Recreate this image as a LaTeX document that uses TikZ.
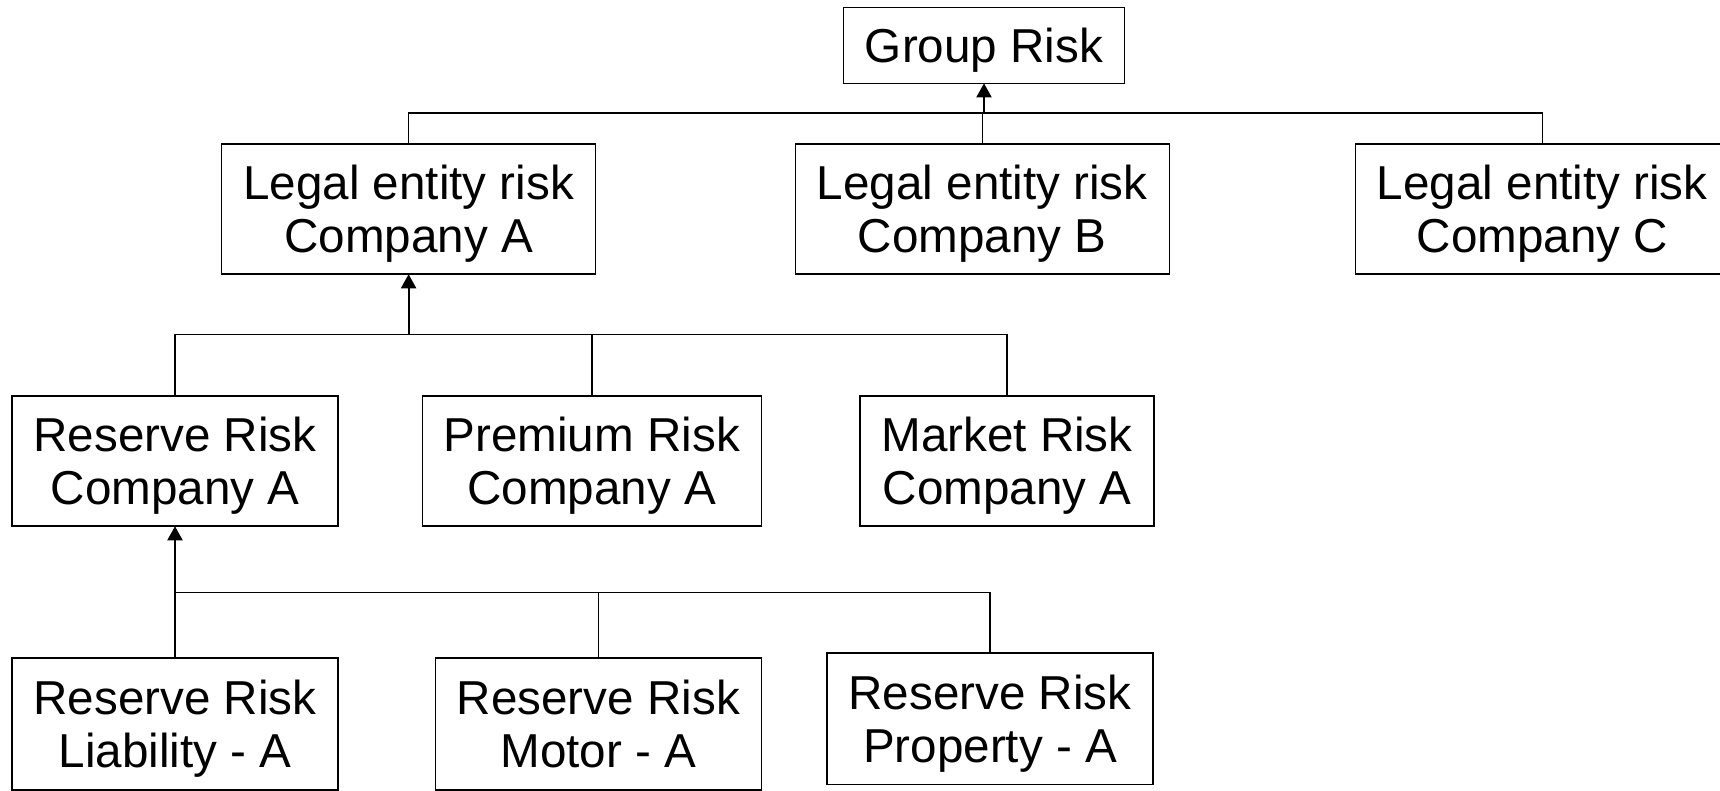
\documentclass[tikz,border=0pt]{standalone}
\usepackage{fontspec}
\setmainfont{Liberation Sans}
\usetikzlibrary{arrows.meta}

\tikzset{
    riskbox/.style={draw, line width=1.6pt, align=center, outer sep=0pt, inner sep=0pt,
        font=\fontsize{47.6}{53}\selectfont, text depth=0pt, minimum height=130.5pt},
    link/.style={line width=1.6pt},
    uparrow/.style={line width=2pt, -{Triangle[length=14pt,width=15pt]}}
}

\begin{document}
\begin{tikzpicture}[x=1pt,y=-1pt]
    \useasboundingbox (0,0) rectangle (1720,790);
    % top level
    \node[riskbox, minimum width=281pt, minimum height=75.7pt] (grp) at (984,45.5) {Group Risk};
    % legal entities
    \node[riskbox, minimum width=374pt] (la) at (408.6,209) {Legal entity risk\\Company A};
    \node[riskbox, minimum width=374pt] (lb) at (982.3,209) {Legal entity risk\\Company B};
    \node[riskbox, minimum width=374pt] (lc) at (1542.3,209) {Legal entity risk\\Company C};
    % risk types of company A
    \node[riskbox, minimum width=325.8pt] (res) at (175,461) {Reserve Risk\\Company A};
    \node[riskbox, minimum width=339pt] (prem) at (591.8,461) {Premium Risk\\Company A};
    \node[riskbox, minimum width=294pt] (mkt) at (1007,461) {Market Risk\\Company A};
    % lines of business
    \node[riskbox, minimum width=325.8pt, minimum height=131.6pt] (liab) at (175,724) {Reserve Risk\\Liability - A};
    \node[riskbox, minimum width=325.8pt, minimum height=131.6pt] (motor) at (598.4,724) {Reserve Risk\\Motor - A};
    \node[riskbox, minimum width=325.8pt, minimum height=131.6pt] (prop) at (990,718.5) {Reserve Risk\\Property - A};

    \coordinate (b1) at (0,113);
    \coordinate (b2) at (0,334.6);
    \coordinate (b3) at (0,592.3);

    \draw[link] (la.north) -- (la.north |- b1) -- (lc.north |- b1) -- (lc.north);
    \draw[link] (lb.north) -- (lb.north |- b1);
    \draw[uparrow] (grp.south |- b1) -- (grp.south);

    \draw[link] (res.north) -- (res.north |- b2) -- (mkt.north |- b2) -- (mkt.north);
    \draw[link] (prem.north) -- (prem.north |- b2);
    \draw[uparrow] (la.south |- b2) -- (la.south);

    \draw[link] (liab.north) -- (liab.north |- b3) -- (prop.north |- b3) -- (prop.north);
    \draw[link] (motor.north) -- (motor.north |- b3);
    \draw[uparrow] (res.south |- b3) -- (res.south);
\end{tikzpicture}
\end{document}
